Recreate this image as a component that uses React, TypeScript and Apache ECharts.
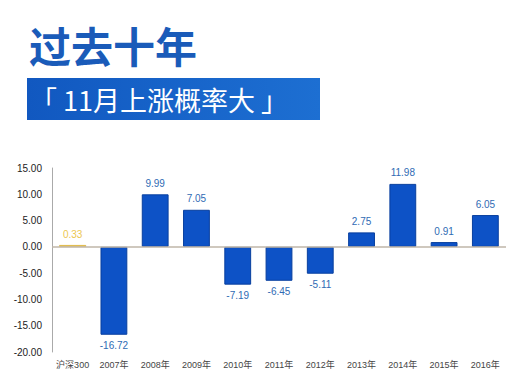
import React, { useEffect, useRef } from "react";
import * as echarts from "echarts";

const categories = ["沪深300", "2007年", "2008年", "2009年", "2010年", "2011年", "2012年", "2013年", "2014年", "2015年", "2016年"];
const values = [0.33, -16.72, 9.99, 7.05, -7.19, -6.45, -5.11, 2.75, 11.98, 0.91, 6.05];
const yTicks = { min: -20, max: 15, interval: 5 };
const titleText = "过去十年";
const bannerText = "「 11月上涨概率大 」";

export default function App() {
  const ref = useRef<HTMLDivElement>(null);
  useEffect(() => {
    if (!ref.current) return;
    const chart = echarts.init(ref.current, null, { renderer: "svg" });
    const data = values.map((v, i) => {
      const first = i === 0;
      return {
        value: v,
        itemStyle: first
          ? { color: "#e6bd3c", borderColor: "#d4a92a", borderWidth: 0.5 }
          : { color: "#0d52c6", borderColor: "#083f9e", borderWidth: 1 },
        label: {
          show: true,
          position: v >= 0 ? "top" : "bottom",
          distance: 6,
          color: first ? "#ecc650" : "#2f6bb4",
          fontSize: 10,
          fontFamily: "Liberation Sans, sans-serif",
          formatter: (p: any) => p.value.toFixed(2),
        },
      };
    });
    chart.setOption({
      animation: false,
      backgroundColor: "#ffffff",
      graphic: [
        {
          type: "text",
          left: 29,
          top: 23,
          style: {
            text: titleText,
            fill: "#1a5bb9",
            font: "bold 42px 'Noto Sans CJK SC', sans-serif",
          },
        },
        {
          type: "rect",
          shape: { x: 27, y: 78, width: 293, height: 42 },
          style: {
            fill: new echarts.graphic.LinearGradient(0, 0, 1, 0, [
              { offset: 0, color: "#1158c0" },
              { offset: 1, color: "#1d6fd2" },
            ]),
          },
        },
        {
          type: "text",
          x: 30,
          y: 99,
          style: {
            text: bannerText,
            fill: "#ffffff",
            font: "27px 'Noto Sans CJK SC', sans-serif",
            verticalAlign: "middle",
          },
        },
      ],
      grid: { left: 52, right: 22, top: 168, bottom: 38 },
      xAxis: {
        type: "category",
        data: categories,
        axisLine: { show: false, onZero: false },
        axisTick: { show: false },
        axisLabel: {
          color: "#444",
          fontSize: 9,
          margin: 8,
          interval: 0,
          fontFamily: "Liberation Sans, 'Noto Sans CJK SC', sans-serif",
        },
      },
      yAxis: {
        type: "value",
        min: yTicks.min,
        max: yTicks.max,
        interval: yTicks.interval,
        axisLine: { show: true, lineStyle: { color: "#aaaaaa", width: 1 } },
        axisTick: { show: false },
        splitLine: { show: false },
        axisLabel: {
          color: "#222",
          fontSize: 10,
          margin: 10,
          fontFamily: "Liberation Sans, sans-serif",
          formatter: (v: number) => v.toFixed(2),
        },
      },
      series: [
        {
          type: "bar",
          data,
          barCategoryGap: "35%",
          markLine: {
            silent: true,
            symbol: "none",
            label: { show: false },
            lineStyle: { color: "#bfb6a8", type: "solid", width: 1.5 },
            data: [{ yAxis: 0 }],
          },
        },
      ],
    });
    return () => chart.dispose();
  }, []);
  return <div ref={ref} style={{ width: 528, height: 390, position: "absolute", left: 0, top: 0 }} />;
}
